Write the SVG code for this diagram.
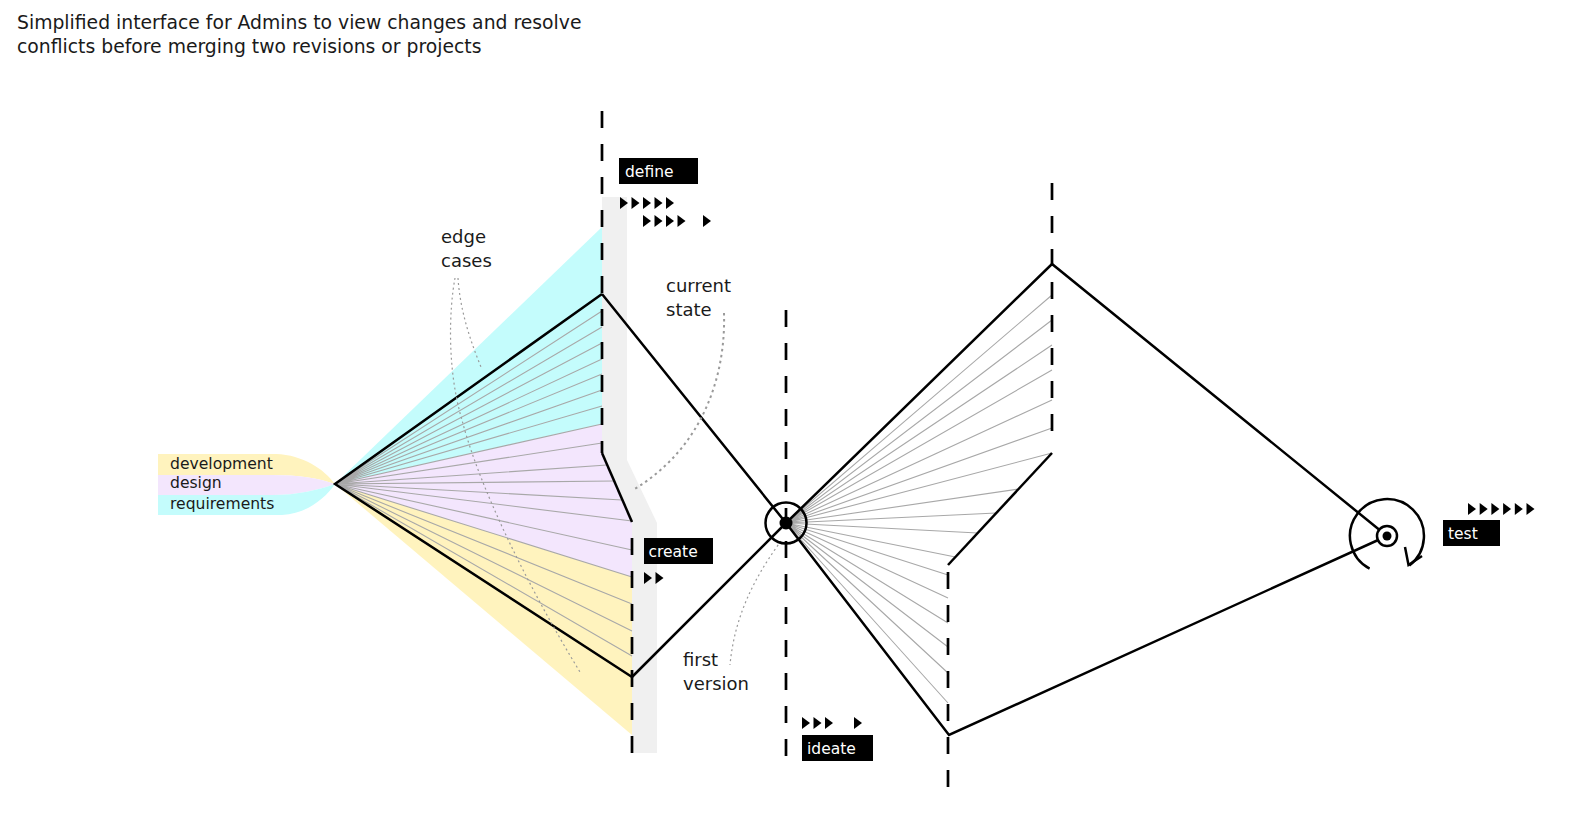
<svg xmlns="http://www.w3.org/2000/svg" xmlns:xlink="http://www.w3.org/1999/xlink" width="1583" height="823" viewBox="0 0 1583 823">
<style>
text{font-family:"DejaVu Sans","Noto Sans",sans-serif;fill:#1a1a1a}
.title{font-size:18.8px}
.lbl{font-size:18px}
.band{font-size:15.6px}
.tag{font-size:15.5px;fill:#fff}
.box{fill:#000}
.blk{stroke:#000;stroke-width:2.5;fill:none;stroke-linejoin:miter}
.dash{stroke:#000;stroke-width:2.7;fill:none;stroke-dasharray:17 16}
.fan{stroke:#a8a8a8;stroke-width:1.1;fill:none}
.dot{stroke:#9a9a9a;stroke-width:1.2;fill:none;stroke-dasharray:2 3}
.dotb{stroke:#9a9a9a;stroke-width:2;fill:none;stroke-dasharray:2.5 3.5}
.yel{fill:#fff3be}.pur{fill:#f3e6fd}.cya{fill:#c4fcfc}
</style>
<defs>
<path id="tri" d="M0,0 L8,6 L0,12 Z" fill="#000"/>
</defs>
<rect width="1583" height="823" fill="#fff"/>

<g id="title">
<text class="title" x="17" y="29">Simplified interface for Admins to view changes and resolve</text>
<text class="title" x="17" y="53">conflicts before merging two revisions or projects</text>
</g>

<g id="fills">
<path class="cya" d="M335,484 L602,227 L602,424 Z"/>
<path class="pur" d="M335,484 L602,424 L602,453 L632,522 L632,577 Z"/>
<path class="yel" d="M335,484 L632,577 L632,735 Z"/>
<path fill="#f0f0f0" d="M602,197 L627,197 L627,460 L657,523 L657,753 L632,753 L632,522 L602,453 Z"/>
</g>

<g id="streams">
<path class="yel" d="M158,454 H276 C303,455 324,469 335,484 C318,478 298,475 272,475 H158 Z"/>
<path class="pur" d="M158,475 H272 C298,475 318,478 335,484 C318,490 298,495 272,495 H158 Z"/>
<path class="cya" d="M158,495 H272 C298,495 318,490 335,484 C324,500 305,514 282,515 H158 Z"/>
<text class="band" x="170" y="469">development</text>
<text class="band" x="170" y="488">design</text>
<text class="band" x="170" y="509">requirements</text>
</g>

<g id="connectors">
<g id="fan-left" class="fan">
<path d="M335,484 L602,311 M335,484 L602,327 M335,484 L602,343 M335,484 L602,359 M335,484 L602,374 M335,484 L602,390 M335,484 L602,406 M335,484 L602,424 M335,484 L602,443 M335,484 L607,465 M335,484 L614,481 M335,484 L622,500 M335,484 L632,521 M335,484 L632,550 M335,484 L632,577 M335,484 L632,604 M335,484 L632,631 M335,484 L632,656"/>
</g>
<g id="fan-right" class="fan">
<path d="M786,523 L1052,295 M786,523 L1052,320 M786,523 L1052,345 M786,523 L1052,370 M786,523 L1052,400 M786,523 L1052,428 M786,523 L1052,453 M786,523 L1018.6,489 M786,523 L996.3,513 M786,523 L977.7,533 M786,523 L955.4,557 M786,523 L948,575 M786,523 L948,598 M786,523 L948,623 M786,523 L948,647 M786,523 L948,673 M786,523 L948,703"/>
</g>
<g id="phases">
<path class="dash" d="M602,111 V453"/>
<path class="dash" d="M632,538 V753"/>
<path class="dash" d="M786,310 V762"/>
<path class="dash" d="M1052,183 V436"/>
<path class="dash" d="M948,572 V795"/>
</g>
<g id="paths">
<path class="blk" d="M602,294 L335,484 L632,677"/>
<path class="blk" d="M602,294 L786,523 L949,735 L1387,536"/>
<path class="blk" d="M632,677 L786,523 L1052,264 L1387,536"/>
<path class="blk" d="M602,453 L632,522"/>
<path class="blk" d="M1052,453 L948,565"/>
</g>
<g id="leaders">
<path class="dot" d="M455,278 C449,310 447,370 462,420 C480,490 530,590 580,672"/>
<path class="dot" d="M458,278 C460,310 470,340 481,367"/>
<path class="dotb" d="M724,313 C726,380 700,450 633,490"/>
<path class="dot" d="M781,541 C760,570 735,610 730,665"/>
</g>
</g>

<g id="hub">
<circle cx="786" cy="523" r="20.5" fill="none" stroke="#000" stroke-width="2.5"/>
<circle cx="786" cy="523" r="6.5" fill="#000"/>
</g>

<g id="test-node">
<circle cx="1387" cy="536" r="10" fill="#fff" stroke="#000" stroke-width="2.5"/>
<circle cx="1387" cy="536" r="4.5" fill="#000"/>
<path class="blk" d="M1369.6,568.7 A37,37 0 1 1 1409.3,565.5"/>
<path class="blk" d="M1405,547 L1408.5,565 L1422,556"/>
</g>

<g id="define">
<rect class="box" x="619" y="158" width="79" height="26"/>
<text class="tag" x="625" y="177">define</text>
<use xlink:href="#tri" x="620" y="197"/><use xlink:href="#tri" x="631.5" y="197"/><use xlink:href="#tri" x="643" y="197"/><use xlink:href="#tri" x="654.5" y="197"/><use xlink:href="#tri" x="666" y="197"/>
<use xlink:href="#tri" x="643" y="215"/><use xlink:href="#tri" x="654.5" y="215"/><use xlink:href="#tri" x="666" y="215"/><use xlink:href="#tri" x="677.5" y="215"/><use xlink:href="#tri" x="703" y="215"/>
</g>

<g id="create">
<rect class="box" x="644" y="538" width="69" height="26"/>
<text class="tag" x="648.5" y="557">create</text>
<use xlink:href="#tri" x="644" y="572"/><use xlink:href="#tri" x="655.5" y="572"/>
</g>

<g id="ideate">
<rect class="box" x="802" y="735" width="71" height="26"/>
<text class="tag" x="807" y="753.5">ideate</text>
<use xlink:href="#tri" x="802" y="717"/><use xlink:href="#tri" x="813.5" y="717"/><use xlink:href="#tri" x="825" y="717"/><use xlink:href="#tri" x="854" y="717"/>
</g>

<g id="test">
<rect class="box" x="1443" y="520" width="57" height="26"/>
<text class="tag" x="1448" y="539">test</text>
<use xlink:href="#tri" x="1468" y="503"/><use xlink:href="#tri" x="1479.7" y="503"/><use xlink:href="#tri" x="1491.4" y="503"/><use xlink:href="#tri" x="1503.1" y="503"/><use xlink:href="#tri" x="1514.8" y="503"/><use xlink:href="#tri" x="1526.5" y="503"/>
</g>

<g id="annotations">
<text class="lbl" x="441" y="243">edge</text>
<text class="lbl" x="441" y="267">cases</text>
<text class="lbl" x="666" y="292">current</text>
<text class="lbl" x="666" y="316">state</text>
<text class="lbl" x="683" y="666">first</text>
<text class="lbl" x="683" y="690">version</text>
</g>
</svg>
